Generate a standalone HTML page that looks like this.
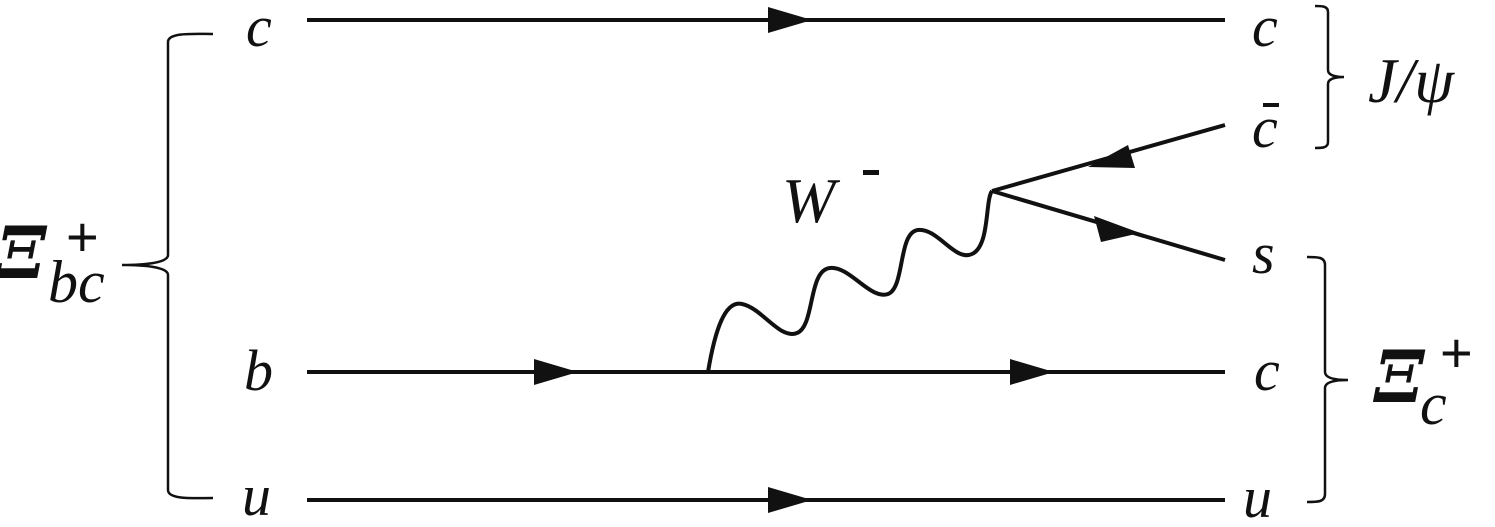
<!DOCTYPE html>
<html><head><meta charset="utf-8"><style>
html,body{margin:0;padding:0;background:#fff;width:1495px;height:527px;overflow:hidden}
text{font-family:"Liberation Serif","DejaVu Serif",serif;font-style:italic;fill:#111}
text.x{font-family:"DejaVu Serif","Liberation Serif",serif;font-weight:bold}
text.p{font-family:"Liberation Sans",sans-serif;font-style:normal}
</style></head><body>
<svg width="1495" height="527" viewBox="0 0 1495 527" xmlns="http://www.w3.org/2000/svg">
<g stroke="#111" stroke-width="4" fill="none">
<line x1="307" y1="20" x2="1225" y2="20"/>
<line x1="307" y1="372" x2="1225" y2="372"/>
<line x1="307" y1="500" x2="1225" y2="500"/>
<line x1="992" y1="191" x2="1225" y2="125"/>
<line x1="992" y1="191" x2="1225" y2="260"/>
<path d="M708,372 C715,330 725,300 742,304 C762,308 780,340 797,333 C815,326 808,270 830,268 C850,266 870,300 888,294 C905,288 898,232 918,230 C938,228 955,262 972,254 C990,246 985,200 992,191"/>
</g>
<g stroke="#111" stroke-width="2.5" fill="none">
<path d="M213,34 C195,34 168,32 168,42 L168,255 C168,262 150,265 122,265 C150,265 168,268 168,275 L168,490 C168,500 195,498 213,498"/>
<path d="M1315,6 C1322,6 1328,6 1328,12 L1328,70 C1328,75 1335,77 1344,77 C1335,77 1328,79 1328,84 L1328,142 C1328,148 1322,148 1315,148"/>
<path d="M1307,257 C1318,257 1325,257 1325,265 L1325,372 C1325,378 1335,380 1348,380 C1335,380 1325,382 1325,388 L1325,494 C1325,502 1318,502 1307,502"/>
</g>
<g fill="#111">
<polygon points="768,7 768,33 812,20"/>
<polygon points="534,359 534,385 578,372"/>
<polygon points="1010,359 1010,385 1054,372"/>
<polygon points="768,487 768,513 812,500"/>
<polygon points="1088,167 1128,145 1135,168"/>
<polygon points="1140,233 1094,216 1101,242"/>
</g>
<text x="246" y="46" font-size="58">c</text>
<text x="244" y="390" font-size="58">b</text>
<text x="242" y="515" font-size="58">u</text>
<text x="1252" y="46" font-size="58">c</text>
<text x="1252" y="147" font-size="58">c</text>
<rect x="1263" y="103" width="16" height="4" fill="#111"/>
<text x="1252" y="273" font-size="58">s</text>
<text x="1254" y="390" font-size="58">c</text>
<text x="1243" y="517" font-size="58">u</text>
<text x="782" y="222" font-size="64">W</text>
<rect x="863" y="170" width="16" height="5" fill="#111"/>
<text x="1368" y="102" font-size="64">J/ψ</text>
<text class="x" x="-4" y="278" font-size="72">Ξ</text>
<text class="p" x="66" y="256" font-size="56">+</text>
<text x="48" y="302" font-size="60">bc</text>
<text class="x" x="1374" y="402" font-size="72">Ξ</text>
<text class="p" x="1440" y="372" font-size="56">+</text>
<text x="1420" y="424" font-size="60">c</text>
</svg>
</body></html>
